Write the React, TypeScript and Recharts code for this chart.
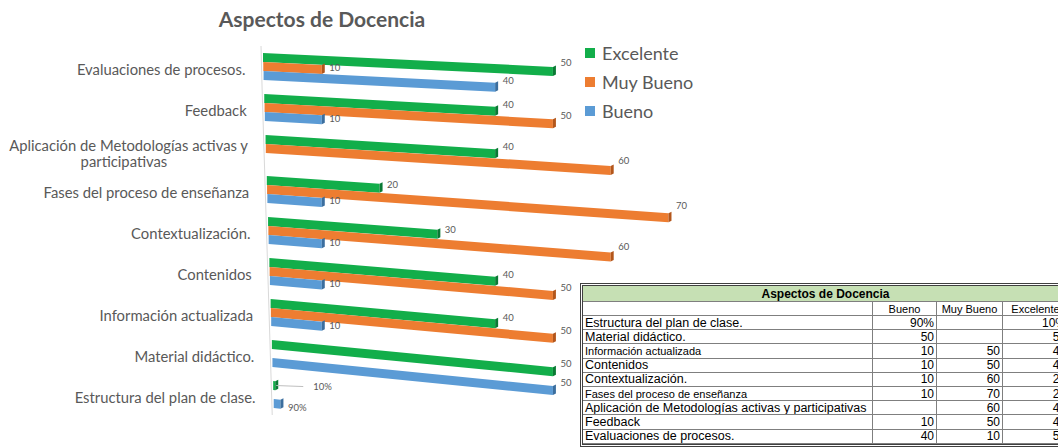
import { Bar, BarChart, LabelList, XAxis, YAxis } from "recharts";

const categories = [
  "Evaluaciones de procesos.",
  "Feedback",
  "Aplicación de Metodologías activas y participativas",
  "Fases del proceso de enseñanza",
  "Contextualización.",
  "Contenidos",
  "Información actualizada",
  "Material didáctico.",
  "Estructura del plan de clase.",
];
const excelente = [50, 40, 40, 20, 30, 40, 40, 50, 0.1];
const muyBueno = [10, 50, 60, 70, 60, 50, 50, null, null];
const bueno = [40, 10, null, 10, 10, 10, 10, 50, 0.9];

// table pasted next to the chart
const tableRows = [
  "Estructura del plan de clase.",
  "Material didáctico.",
  "Información actualizada",
  "Contenidos",
  "Contextualización.",
  "Fases del proceso de enseñanza",
  "Aplicación de Metodologías activas y participativas",
  "Feedback",
  "Evaluaciones de procesos.",
];
const tableBueno = ["90%", "50", "10", "10", "10", "10", "", "10", "40"];
const tableMuyBueno = ["", "", "50", "50", "60", "70", "60", "50", "10"];
const tableExcelente = ["10%", "50", "40", "40", "20", "20", "40", "40", "50"];

const data = categories.map((name, i) => ({
  name,
  excelente: excelente[i],
  muyBueno: muyBueno[i],
  bueno: bueno[i],
}));

const FONT = "Lato, 'Open Sans', sans-serif";
const GREEN = "#12AE4A";
const ORANGE = "#ED7D31";
const BLUE = "#5B9BD5";

// fake 3D perspective: tilt and left shift both grow toward the bottom
const slope = (y: number) => 0.039 + 0.00017 * y;
const shift = (y: number) => Math.max(0, (y - 53) * 0.031);

const barEnds = (x: number, y: number, width: number) => {
  const x0 = x + shift(y);
  const x1 = Math.max(x + width + 1, x0 + 1.5 + Math.min(width, 8));
  return [x0, x1];
};

const Bar3D = (props: any) => {
  const { x, y, width, height, fill, dark, value } = props;
  if (value == null || width == null || isNaN(width)) return null;
  const [x0, x1] = barEnds(x, y, width);
  const d = slope(y) * (x1 - x0);
  const c = 3;
  return (
    <g>
      <polygon
        points={`${x0},${y} ${x1},${y + d} ${x1},${y + d + height} ${x0},${y + height}`}
        fill={fill}
      />
      <polygon
        points={`${x1},${y + d} ${x1 + c},${y + d - 1.5} ${x1 + c},${y + d + height - 1.5} ${x1},${y + d + height}`}
        fill={dark}
      />
    </g>
  );
};

const ValueLabel = (props: any) => {
  const { x, y, width, height, value } = props;
  if (value == null) return null;
  const [, x1] = barEnds(x, y, width);
  const ex = x1 + 3;
  const ly = y + height / 2 + (slope(y) - 0.03) * width;
  const text = value < 1 ? `${Math.round(value * 100)}%` : String(value);
  if (value < 0.5) {
    return (
      <g>
        <line x1={ex - 2} y1={ly} x2={ex + 25} y2={ly + 1} stroke="#bfbfbf" />
        <text x={ex + 35} y={ly + 1} dy={3.5} fontSize={9.5} fill="#595959" fontFamily={FONT}>
          {text}
        </text>
      </g>
    );
  }
  return (
    <text x={ex + 4.5} y={ly + (value < 1 ? 4 : 0)} dy={3.5} fontSize={9.5} fill="#595959" fontFamily={FONT}>
      {text}
    </text>
  );
};

// category label plus this band's piece of the (tilted) axis line
const CategoryTick = (props: any) => {
  const { x, y, payload } = props;
  const label: string = payload.value;
  const half = payload.offset || 20.5;
  const ax = x + 7;
  const end = ax - 17 + shift(y);
  const txt = { fontSize: 14.8, fill: "#595959", fontFamily: FONT };
  const axisPiece = (
    <line
      x1={ax - 1 + shift(y - half)}
      y1={y - half}
      x2={ax - 1 + shift(y + half)}
      y2={y + half}
      stroke="#d9d9d9"
    />
  );
  if (label.length > 36) {
    const cut = label.lastIndexOf(" ", 36);
    return (
      <g>
        {axisPiece}
        <text x={end} y={y - 3} dy={5} textAnchor="end" {...txt}>
          {label.slice(0, cut)}
        </text>
        <text x={end - 124} y={y + 13} dy={5} textAnchor="middle" {...txt}>
          {label.slice(cut + 1)}
        </text>
      </g>
    );
  }
  return (
    <g>
      {axisPiece}
      <text x={end} y={y + 3} dy={5} textAnchor="end" {...txt}>
        {label}
      </text>
    </g>
  );
};

const legendItems = [
  { name: "Excelente", color: GREEN },
  { name: "Muy Bueno", color: ORANGE },
  { name: "Bueno", color: BLUE },
];

const smallRows = new Set(["Información actualizada", "Fases del proceso de enseñanza"]);

const cell = {
  borderRight: "1px solid #7f7f7f",
  borderBottom: "1px solid #7f7f7f",
  padding: "0 2px",
  boxSizing: "border-box" as const,
  whiteSpace: "nowrap" as const,
  overflow: "hidden",
  display: "flex",
  alignItems: "center",
};
const num = { ...cell, justifyContent: "flex-end", fontSize: 12 };
const head = { ...cell, justifyContent: "center", fontSize: 11 };

const DataTable = () => (
  <div
    style={{
      position: "absolute",
      left: 580,
      top: 283,
      width: 492,
      border: "3px double #404040",
      display: "grid",
      gridTemplateColumns: "290px 64px 66px 66px",
      gridTemplateRows: "16px 14px repeat(9, 14.2px)",
      fontFamily: "'Liberation Sans', Arial, sans-serif",
      color: "#000",
      background: "#fff",
    }}
  >
    <div style={{ ...cell, gridColumn: "1 / 5", background: "#C6E0B4", justifyContent: "center", fontWeight: "bold", fontSize: 12 }}>
      Aspectos de Docencia
    </div>
    <div style={cell}></div>
    <div style={head}>Bueno</div>
    <div style={head}>Muy Bueno</div>
    <div style={head}>Excelente</div>
    {tableRows.map((r, i) => [
      <div key={r} style={{ ...cell, fontSize: smallRows.has(r) ? 11 : 12.5 }}>{r}</div>,
      <div key={r + "b"} style={num}>{tableBueno[i]}</div>,
      <div key={r + "m"} style={num}>{tableMuyBueno[i]}</div>,
      <div key={r + "e"} style={num}>{tableExcelente[i]}</div>,
    ])}
  </div>
);

export default function App() {
  return (
    <div style={{ position: "relative", width: 1058, height: 448, background: "#fff", overflow: "hidden" }}>
      <style>{`body{margin:0}`}</style>
      <div
        style={{
          position: "absolute",
          left: 212,
          top: 6,
          width: 220,
          textAlign: "center",
          fontFamily: FONT,
          fontWeight: "bold",
          fontSize: 21,
          color: "#595959",
        }}
      >
        Aspectos de Docencia
      </div>
      <BarChart
        width={1058}
        height={448}
        data={data}
        layout="vertical"
        margin={{ top: 46, right: 331, bottom: 33, left: 0 }}
        barSize={9}
        barGap={0}
      >
        <XAxis type="number" domain={[0, 80.3]} hide />
        <YAxis
          type="category"
          dataKey="name"
          width={263}
          interval={0}
          tickLine={false}
          axisLine={false}
          tick={<CategoryTick />}
        />
        <Bar dataKey="excelente" fill={GREEN} isAnimationActive={false} shape={(p: any) => <Bar3D {...p} dark="#0a7a34" />}>
          <LabelList dataKey="excelente" content={(p: any) => <ValueLabel {...p} />} />
        </Bar>
        <Bar dataKey="muyBueno" fill={ORANGE} isAnimationActive={false} shape={(p: any) => <Bar3D {...p} dark="#b3561b" />}>
          <LabelList dataKey="muyBueno" content={(p: any) => <ValueLabel {...p} />} />
        </Bar>
        <Bar dataKey="bueno" fill={BLUE} isAnimationActive={false} shape={(p: any) => <Bar3D {...p} dark="#3b6e9e" />}>
          <LabelList dataKey="bueno" content={(p: any) => <ValueLabel {...p} />} />
        </Bar>
      </BarChart>
      <div style={{ position: "absolute", left: 585, top: 38 }}>
        {legendItems.map((it) => (
          <div
            key={it.name}
            style={{ display: "flex", alignItems: "center", height: 29, fontFamily: FONT, fontSize: 18, color: "#595959" }}
          >
            <span style={{ width: 10, height: 10, background: it.color, marginRight: 7, display: "inline-block" }} />
            {it.name}
          </div>
        ))}
      </div>
      <DataTable />
    </div>
  );
}
